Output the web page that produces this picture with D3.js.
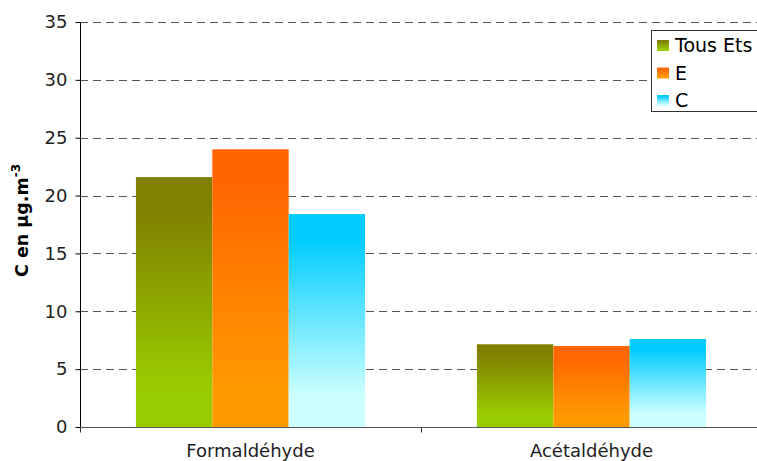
<!DOCTYPE html>
<html>
<head>
<meta charset="utf-8">
<script src="https://cdn.jsdelivr.net/npm/d3@7"></script>
<style>
  body { margin: 0; background: #fff; }
  svg { font-family: "DejaVu Sans", Verdana, sans-serif; }
</style>
</head>
<body>
<svg id="canvas" width="757" height="461"></svg>
<script>
// data
let categories = ['Formaldéhyde', 'Acétaldéhyde']
let seriesNames = ['Tous Ets', 'E', 'C']
let tousEts = [21.6, 7.15]
let eValues = [24.0, 7.0]
let cValues = [18.4, 7.6]
let yTicks = [0, 5, 10, 15, 20, 25, 30, 35]

let seriesValues = [tousEts, eValues, cValues]
let gradColors = [
  ['#808000', '#99cc00'],
  ['#ff6600', '#ff9900'],
  ['#00ccff', '#ccffff']
]

let canvas = d3.select('#canvas')

let plotLeft = 80, plotRight = 762, plotTop = 22, plotBottom = 427

let x = d3.scaleBand()
  .domain(categories)
  .range([plotLeft, plotRight])

let xSub = d3.scaleBand()
  .domain(seriesNames)
  .range([x.step() * 0.164, x.step() * (1 - 0.164)])

let y = d3.scaleLinear()
  .domain([0, 35])
  .range([plotBottom, plotTop])

// gradients, one per series
let defs = canvas.append('defs')
seriesNames.forEach((name, i) => {
  let g = defs.append('linearGradient')
    .attr('id', 'grad' + i)
    .attr('x1', 0).attr('y1', 0)
    .attr('x2', 0).attr('y2', 1)
  g.append('stop').attr('offset', '0%').attr('stop-color', gradColors[i][0])
  g.append('stop').attr('offset', '12%').attr('stop-color', gradColors[i][0])
  g.append('stop').attr('offset', '85%').attr('stop-color', gradColors[i][1])
  g.append('stop').attr('offset', '100%').attr('stop-color', gradColors[i][1])
})

// dashed grid
canvas.append('g')
  .selectAll('line')
  .data(yTicks.filter(d => d > 0))
  .enter()
  .append('line')
  .attr('x1', plotLeft)
  .attr('x2', 757)
  .attr('y1', d => Math.round(y(d)) + 0.5)
  .attr('y2', d => Math.round(y(d)) + 0.5)
  .attr('stroke', '#555')
  .attr('stroke-dasharray', '8,5')

// bars
let rows = []
categories.forEach((c, ci) => {
  seriesNames.forEach((s, si) => {
    rows.push({ cat: c, series: s, si: si, value: seriesValues[si][ci] })
  })
})

canvas.append('g')
  .selectAll('rect')
  .data(rows)
  .enter()
  .append('rect')
  .attr('x', d => x(d.cat) + xSub(d.series))
  .attr('width', xSub.bandwidth())
  .attr('y', d => y(d.value))
  .attr('height', d => y(0) - y(d.value))
  .attr('fill', d => 'url(#grad' + d.si + ')')

// y axis
let yAxis = canvas.append('g')
  .attr('transform', 'translate(' + (plotLeft + 0.5) + ',0)')
  .call(d3.axisLeft(y).tickValues(yTicks).tickSize(5).tickPadding(8))
yAxis.select('.domain').attr('stroke', '#000').attr('d', 'M0,' + plotTop + 'V' + (plotBottom + 4))
yAxis.selectAll('.tick line').attr('stroke', '#000')
yAxis.selectAll('.tick text').attr('font-size', 18).attr('fill', '#222')
  .attr('font-family', '"DejaVu Sans", Verdana, sans-serif')

// x axis
let xAxis = canvas.append('g')
  .attr('transform', 'translate(0,' + (plotBottom + 0.5) + ')')
canvas.append('line')
  .attr('x1', plotLeft).attr('x2', 757)
  .attr('y1', plotBottom + 0.5).attr('y2', plotBottom + 0.5)
  .attr('stroke', '#555')
xAxis.selectAll('line.sep')
  .data(categories)
  .enter()
  .append('line')
  .attr('x1', d => Math.round(x(d)) + 0.5)
  .attr('x2', d => Math.round(x(d)) + 0.5)
  .attr('y1', 0).attr('y2', 5)
  .attr('stroke', '#333')
xAxis.selectAll('text')
  .data(categories)
  .enter()
  .append('text')
  .attr('x', d => x(d) + x.bandwidth() / 2)
  .attr('y', 29)
  .attr('text-anchor', 'middle')
  .attr('font-size', 18)
  .attr('fill', '#222')
  .text(d => d)

// y title
let title = canvas.append('text')
  .attr('transform', 'translate(28,277) rotate(-90)')
  .attr('text-anchor', 'start')
  .attr('font-size', 17.5)
  .attr('font-weight', 'bold')
  .attr('fill', '#000')
title.append('tspan').text('C en µg.m')
title.append('tspan').attr('dy', -8).attr('font-size', 12).text('-3')

// legend
let legend = canvas.append('g').attr('transform', 'translate(651,30)')
legend.append('rect')
  .attr('x', 0.5).attr('y', 0.5)
  .attr('width', 120).attr('height', 81)
  .attr('fill', '#fff')
  .attr('stroke', '#333')
let items = legend.selectAll('g.item')
  .data(seriesNames)
  .enter()
  .append('g')
  .attr('transform', (d, i) => 'translate(0,' + (10 + i * 27.5) + ')')
items.append('rect')
  .attr('x', 6).attr('width', 12).attr('height', 11)
  .attr('fill', (d, i) => 'url(#grad' + i + ')')
items.append('text')
  .attr('x', 24).attr('y', 12)
  .attr('font-size', 19)
  .attr('fill', '#000')
  .text(d => d)
</script>
</body>
</html>
